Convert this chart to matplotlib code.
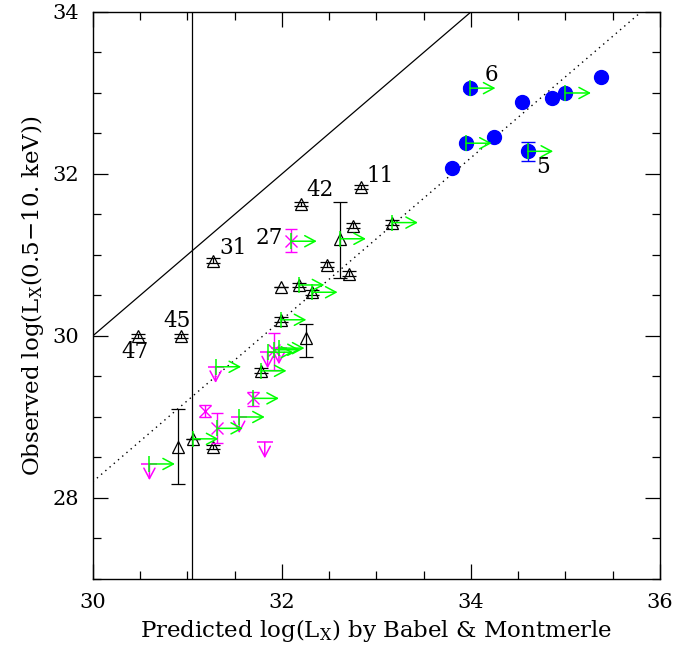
import numpy as np
import matplotlib
matplotlib.use("Agg")
import matplotlib.pyplot as plt

plt.rcParams['font.family'] = ['DejaVu Serif']
plt.rcParams['mathtext.fontset'] = 'dejavuserif'

# open triangles (black), with y errors and x lower-limit flags
tri_x = [30.48, 30.93, 31.27, 32.20, 32.84, 32.75, 33.17, 32.62, 32.71, 32.48,
         31.99, 32.18, 32.32, 31.99, 32.26, 31.78, 31.06, 31.27, 30.90]
tri_y = [30.00, 30.00, 30.93, 31.63, 31.84, 31.36, 31.40, 31.20, 30.77, 30.88,
         30.60, 30.63, 30.54, 30.20, 29.98, 29.57, 28.73, 28.63, 28.63]
tri_elo = [0.03, 0.03, 0.03, 0.03, 0.03, 0.03, 0.03, 0.48, 0.03, 0.03,
           0.0, 0.03, 0.03, 0.03, 0.24, 0.03, 0.0, 0.03, 0.46]
tri_ehi = [0.03, 0.03, 0.03, 0.03, 0.03, 0.03, 0.03, 0.45, 0.03, 0.03,
           0.0, 0.03, 0.03, 0.03, 0.17, 0.03, 0.0, 0.03, 0.47]
tri_xlim = [0, 0, 0, 0, 0, 0, 1, 1, 0, 0, 0, 1, 1, 1, 0, 1, 1, 0, 0]

# magenta crosses with y errors
mx = [32.10, 31.92, 31.19, 31.32, 31.70]
my = [31.17, 29.83, 29.07, 28.86, 29.23]
m_elo = [0.13, 0.25, 0.07, 0.18, 0.09]
m_ehi = [0.15, 0.21, 0.08, 0.19, 0.08]
m_xlim = [1, 1, 0, 1, 1]

# magenta upper limits
ux = [31.85, 31.97, 31.30, 31.55, 31.82, 30.60]
uy = [29.80, 29.85, 29.62, 29.00, 28.69, 28.42]
u_xlim = [1, 1, 1, 1, 0, 1]

# blue filled circles
bx = [33.99, 35.38, 34.54, 34.86, 35.00, 33.95, 34.24, 33.80, 34.60]
by = [33.06, 33.20, 32.89, 32.94, 33.00, 32.38, 32.46, 32.07, 32.28]
b_err = [0.03, 0, 0, 0, 0, 0, 0, 0, 0.12]
b_xlim = [1, 0, 0, 0, 1, 1, 0, 0, 1]

# source labels
lab_txt = ['47', '45', '31', '42', '11', '27', '6', '5']
lab_x = [30.45, 30.89, 31.48, 32.40, 33.04, 31.87, 34.22, 34.76]
lab_y = [29.80, 30.19, 31.09, 31.80, 31.98, 31.21, 33.22, 32.09]

fig = plt.figure(figsize=(6.99, 6.48), dpi=100)
ax = fig.add_axes([0.1326, 0.1065, 0.8116, 0.875])

ARROW = '->,head_length=0.75,head_width=0.4'

def xlimit(x, y):
    ax.annotate('', xy=(x + 0.27, y), xytext=(x, y),
                arrowprops=dict(arrowstyle=ARROW, color='lime', lw=1.1,
                                shrinkA=0, shrinkB=0), zorder=6)
    ax.plot(x, y, marker='|', ms=11, mew=1.1, color='lime', zorder=6)

def ylimit(x, y):
    ax.annotate('', xy=(x, y - 0.2), xytext=(x, y),
                arrowprops=dict(arrowstyle=ARROW, color='magenta', lw=1.1,
                                shrinkA=0, shrinkB=0), zorder=5)
    ax.plot(x, y, marker='_', ms=11, mew=1.1, color='magenta', zorder=5)

# reference lines
lx = np.array([30.0, 36.0])
ax.plot(lx, lx, color='black', lw=0.9)
ax.plot(lx, lx - 1.8, color='black', lw=1, ls=(0, (1, 3)))
ax.axvline(31.05, color='black', lw=0.9)

# blue circles
ax.errorbar(bx, by, yerr=b_err, fmt='o', ms=10, color='blue', ecolor='blue',
            elinewidth=1, capsize=5, zorder=4)

# triangles
ax.errorbar(tri_x, tri_y, yerr=[tri_elo, tri_ehi], fmt='^', ms=9, mfc='none',
            mec='black', mew=0.9, ecolor='black', elinewidth=0.9, capsize=5, zorder=3)

# magenta crosses
ax.errorbar(mx, my, yerr=[m_elo, m_ehi], fmt='x', ms=8, color='magenta',
            ecolor='magenta', elinewidth=1, capsize=4, mew=1, zorder=4)

for x, y in zip(ux, uy):
    ylimit(x, y)

for x, y, f in zip(tri_x, tri_y, tri_xlim):
    if f:
        xlimit(x, y)
for x, y, f in zip(mx, my, m_xlim):
    if f:
        xlimit(x, y)
for x, y, f in zip(ux, uy, u_xlim):
    if f:
        xlimit(x, y)
for x, y, f in zip(bx, by, b_xlim):
    if f:
        xlimit(x, y)

for t, x, y in zip(lab_txt, lab_x, lab_y):
    ax.text(x, y, t, fontsize=15.5, ha='center', va='center')

ax.set_xlim(30, 36)
ax.set_ylim(27, 34)
ax.set_xticks([30, 32, 34, 36])
ax.set_yticks([28, 30, 32, 34])
ax.set_xticks(np.arange(30, 36.01, 0.5), minor=True)
ax.set_yticks(np.arange(27, 34.01, 0.5), minor=True)
ax.tick_params(which='both', direction='in', top=True, right=True, labelsize=15, width=0.9)
ax.tick_params(which='major', length=11, pad=10)
ax.tick_params(which='minor', length=6)
for s in ax.spines.values():
    s.set_linewidth(1)

ax.set_xlabel(r'Predicted log(L$_{\rm X}$) by Babel & Montmerle', fontsize=16.5, labelpad=4)
ax.set_ylabel(r'Observed log(L$_{\rm X}$(0.5$-$10. keV))', fontsize=16.5, labelpad=4)

fig.savefig('out.png', dpi=100)
